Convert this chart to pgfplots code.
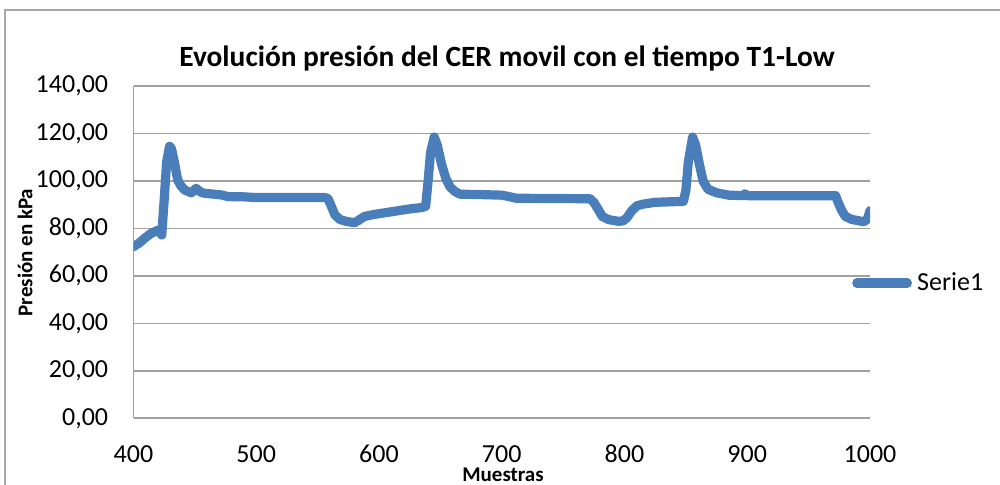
\documentclass[border=0pt]{standalone}
\usepackage{fontspec}
\setmainfont{Carlito}
\usepackage{pgfplots}
\pgfplotsset{compat=1.18}
\definecolor{serie}{HTML}{4A7EBB}
\definecolor{gridc}{HTML}{A0A0A0}
\definecolor{framec}{HTML}{A8A8A8}
\begin{document}
\begin{tikzpicture}
\path[use as bounding box] (0,0) rectangle (500pt,242.5pt);
\begin{scope}
\clip (0,0) rectangle (500pt,242.5pt);
\draw[framec, line width=0.8pt] (2.5pt,-20pt) rectangle (520pt,237.5pt);
\end{scope}
\node[font=\bfseries\fontsize{14.7pt}{16pt}\selectfont] at (253.5pt,213.5pt) {Evolución presión del CER movil con el tiempo T1-Low};
\node[rotate=90, font=\bfseries\fontsize{10.5pt}{12pt}\selectfont] at (12.5pt,116.25pt) {Presión en kPa};
\node[anchor=base, inner sep=0pt, font=\bfseries\fontsize{10.5pt}{12pt}\selectfont] at (251.5pt,1.6pt) {Muestras};
\begin{axis}[
  at={(66.75pt,33.35pt)}, anchor=south west,
  scale only axis, width=368.25pt, height=166.15pt,
  xmin=400, xmax=1000, ymin=0, ymax=140,
  xtick={400,500,...,1000}, ytick={0,20,...,140},
  axis x line=bottom, axis y line=left,
  axis line style={gridc, line width=0.8pt, -},
  ymajorgrids, grid style={gridc, line width=0.8pt},
  major tick length=0pt,
  /pgf/number format/assume math mode=true,
  tick label style={font=\fontsize{13pt}{15pt}\selectfont, inner sep=0pt},
  yticklabel style={anchor=east, xshift=-12.5pt, /pgf/number format/.cd, fixed, fixed zerofill, precision=2, use comma},
  xticklabel style={anchor=center, yshift=-17.8pt, /pgf/number format/.cd, 1000 sep={}},
  legend style={at={(0.9758,0.407)}, anchor=west, draw=none, fill=none, inner sep=0pt, outer sep=0pt,
    font=\fontsize{13pt}{15pt}\selectfont, nodes={inner sep=0pt}, column sep=2.6pt},
  legend image code/.code={\draw[#1, line cap=round] (0pt,0pt) -- (25.3pt,0pt);},
]
\addplot[serie, line width=4.6pt, line join=round, line cap=round] coordinates {
(400,72.3) (405,74) (409,75.8) (414,77.8) (420,79.3) (423,77.2) (425,92) (427,108) (429.4,114.6)
(431,113.5) (433.5,107.4) (436,100.4) (438.5,98) (441.6,96.2) (447,95) (449,95.8) (451,96.9) (453,96) (455,95.2)
(458,94.8) (466,94.4) (471.6,94.1) (477,93.4) (490,93.3) (500,93) (530,93) (556,93) (558.5,92.5)
(561,89.5) (564,85.8) (568,83.8) (573,83) (580,82.4) (583,83.3) (588,85) (595,85.8) (605,86.6) (615,87.4)
(625,88.2) (635,88.8) (638,89.3) (640,100) (642,112) (645,118.5) (647.5,115) (651,107) (654.5,101)
(658,97.4) (662,95.5) (666,94.4) (680,94.3) (700,94) (705,93.5) (712,92.7) (740,92.6) (772,92.5)
(775,91) (778,88.5) (782,85) (787,83.7) (795,83) (799,83.2) (802,84.5) (806,87.5) (810,89.5) (815,90.2)
(825,91) (848,91.4) (850,96) (852,108) (855.5,118.5) (858,115) (861,107) (864,100) (868,96.5) (875,95)
(885,94) (897,93.8) (898,94.6) (900,93.8) (940,93.8) (972,93.8) (974,91) (977,87.5) (980,85) (985,83.8)
(995,82.8) (998,84) (1000,87.5)
};
\addlegendentry{Serie1}
\end{axis}
\end{tikzpicture}
\end{document}
